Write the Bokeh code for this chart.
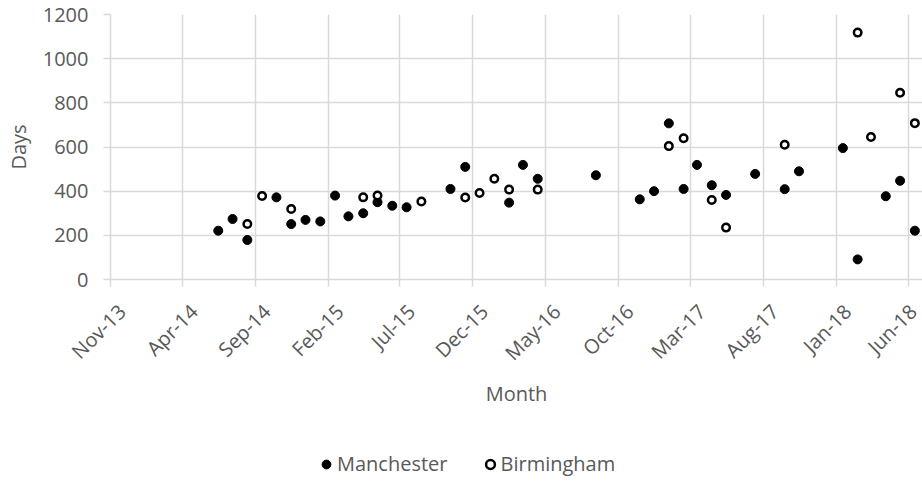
from math import pi
from datetime import datetime
import pandas as pd
from bokeh.plotting import figure
from bokeh.layouts import column
from bokeh.models import (Range1d, FixedTicker, DatetimeTickFormatter, Legend,
                          LegendItem, ColumnDataSource)
from bokeh.embed import file_html
from bokeh.resources import INLINE

# ---- data ----
manchester_month = ["2014-06", "2014-07", "2014-08", "2014-10", "2014-11", "2014-12",
                    "2015-01", "2015-02", "2015-03", "2015-04", "2015-05", "2015-06",
                    "2015-07", "2015-10", "2015-11", "2016-02", "2016-03", "2016-04",
                    "2016-08", "2016-11", "2016-12", "2017-01", "2017-02", "2017-03",
                    "2017-04", "2017-05", "2017-07", "2017-09", "2017-10", "2018-01",
                    "2018-02", "2018-04", "2018-05", "2018-06"]
manchester_days = [221, 274, 179, 372, 251, 270,
                   263, 380, 286, 300, 350, 334,
                   327, 410, 510, 348, 519, 456,
                   472, 363, 400, 707, 410, 519,
                   427, 383, 478, 409, 490, 595,
                   91, 377, 447, 221]

birmingham_month = ["2014-08", "2014-09", "2014-11", "2015-04", "2015-05", "2015-08",
                    "2015-11", "2015-12", "2016-01", "2016-02", "2016-04", "2017-01",
                    "2017-02", "2017-04", "2017-05", "2017-09", "2018-02", "2018-03",
                    "2018-05", "2018-06"]
birmingham_days = [251, 378, 319, 372, 380, 353,
                   371, 392, 456, 407, 407, 604,
                   640, 360, 235, 610, 1118, 645,
                   846, 708]

tick_months = ["2013-11", "2014-04", "2014-09", "2015-02", "2015-07", "2015-12",
               "2016-05", "2016-10", "2017-03", "2017-08", "2018-01", "2018-06"]
tick_labels = ["Nov-13", "Apr-14", "Sep-14", "Feb-15", "Jul-15", "Dec-15",
               "May-16", "Oct-16", "Mar-17", "Aug-17", "Jan-18", "Jun-18"]
y_ticks = [0, 200, 400, 600, 800, 1000, 1200]

# ---- build ----
def mid_month(months):
    return pd.to_datetime([m + "-15" for m in months])

src_m = ColumnDataSource(dict(x=mid_month(manchester_month), y=manchester_days))
src_b = ColumnDataSource(dict(x=mid_month(birmingham_month), y=birmingham_days))

tick_ms = [pd.Timestamp(m + "-01").value // 10**6 for m in tick_months]

GRID = "#d9d9d9"
TXT = "#595959"
FONT = "Open Sans"
M_STYLE = dict(marker="circle", size=9, fill_color="black", line_color="black", line_width=1)
B_STYLE = dict(marker="circle", size=7.5, fill_color="white", line_color="black", line_width=2.5)

p = figure(width=922, height=440, x_axis_type="datetime",
           output_backend="svg", toolbar_location=None,
           x_range=Range1d(datetime(2013, 11, 1), datetime(2018, 7, 1)),
           y_range=Range1d(0, 1200),
           min_border_left=110, min_border_right=0,
           min_border_top=14, min_border_bottom=161)
p.outline_line_color = None
p.background_fill_color = "white"
p.border_fill_color = "white"

p.scatter(x="x", y="y", source=src_m, **M_STYLE)
p.scatter(x="x", y="y", source=src_b, **B_STYLE)

xt = FixedTicker(ticks=tick_ms)
yt = FixedTicker(ticks=y_ticks)
p.xaxis.ticker = xt
p.xgrid.ticker = xt
p.yaxis.ticker = yt
p.ygrid.ticker = yt

fmt = "%b-%y"
p.xaxis.formatter = DatetimeTickFormatter(
    microseconds=fmt, milliseconds=fmt, seconds=fmt, minsec=fmt, minutes=fmt,
    hourmin=fmt, hours=fmt, days=fmt, months=fmt, years=fmt)
# a leading blank line shifts the rotated labels off the tick, like the reference
p.xaxis.major_label_overrides = {t: "\n" + lab for t, lab in zip(tick_ms, tick_labels)}
p.xaxis.major_label_orientation = pi / 4

for g in (p.xgrid, p.ygrid):
    g.grid_line_color = GRID
    g.grid_line_width = 1.5

for ax in (p.xaxis, p.yaxis):
    ax.axis_line_color = GRID
    ax.axis_line_width = 1.5
    ax.major_tick_line_color = GRID
    ax.major_tick_line_width = 1.5
    ax.major_tick_out = 7
    ax.major_tick_in = 0
    ax.minor_tick_line_color = None
    ax.major_label_text_font = FONT
    ax.major_label_text_font_size = "20px"
    ax.major_label_text_color = TXT
    ax.axis_label_text_font = FONT
    ax.axis_label_text_font_size = "20px"
    ax.axis_label_text_color = TXT
    ax.axis_label_text_font_style = "normal"

p.xaxis.axis_label = "Month"
p.yaxis.axis_label = "Days"
p.xaxis.major_label_standoff = 10
p.xaxis.axis_label_standoff = -10
p.yaxis.major_label_standoff = 15
p.yaxis.axis_label_standoff = 8

# ---- legend strip underneath the chart (same sources, out of its view) ----
pl = figure(width=922, height=42, output_backend="svg", toolbar_location=None,
            x_axis_location=None, y_axis_location=None, min_border=0,
            x_range=Range1d(0, 1), y_range=Range1d(0, 1))
pl.outline_line_color = None
pl.grid.visible = False
lm = pl.scatter(x="x", y="y", source=src_m, **M_STYLE)
lb = pl.scatter(x="x", y="y", source=src_b, **B_STYLE)

legend = Legend(items=[LegendItem(label="Manchester", renderers=[lm]),
                       LegendItem(label="Birmingham", renderers=[lb])],
                orientation="horizontal", location=(205, 5),
                border_line_color=None, background_fill_alpha=0,
                padding=0, margin=0, spacing=31, label_standoff=0,
                glyph_width=22, glyph_height=22, label_height=20,
                label_text_font=FONT, label_text_font_size="20px",
                label_text_color=TXT)
pl.add_layout(legend)

open("out.html", "w").write(file_html(column(p, pl, spacing=0), INLINE))
